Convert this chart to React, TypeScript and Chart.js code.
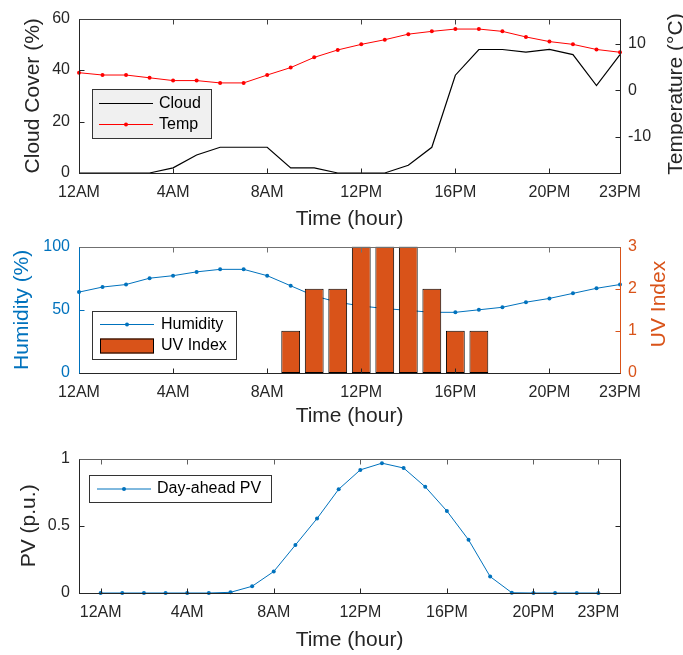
import React, { useEffect, useRef } from 'react';
import { Chart, registerables } from 'chart.js';

Chart.register(...registerables);

// ---------------- data ----------------
const HOURS = [0, 1, 2, 3, 4, 5, 6, 7, 8, 9, 10, 11, 12, 13, 14, 15, 16, 17, 18, 19, 20, 21, 22, 23];
const X_TICK_VALUES = [0, 4, 8, 12, 16, 20, 23];
const X_TICK_LABELS = ['12AM', '4AM', '8AM', '12PM', '16PM', '20PM', '23PM'];

const CLOUD = [0, 0, 0, 0, 2, 7, 10, 10, 10, 2, 2, 0, 0, 0, 3, 10, 38, 48, 48, 47, 48, 46, 34, 46];
const TEMP = [3.8, 3.3, 3.3, 2.7, 2.1, 2.1, 1.6, 1.6, 3.3, 4.9, 7.1, 8.7, 9.9, 10.9, 12.1, 12.7, 13.2, 13.2, 12.7, 11.5, 10.5, 9.9, 8.8, 8.2];
const HUMIDITY = [64, 68, 70, 75, 77, 80, 82, 82, 77, 69, 61, 56, 53, 51, 49.5, 48, 48, 50, 52, 56, 59, 63, 67, 70];
const UV_INDEX = [0, 0, 0, 0, 0, 0, 0, 0, 0, 1, 2, 2, 3, 3, 3, 2, 1, 1, 0, 0, 0, 0, 0, 0];
const PV = [0, 0, 0, 0, 0, 0, 0.005, 0.05, 0.16, 0.357, 0.554, 0.772, 0.916, 0.966, 0.93, 0.79, 0.61, 0.396, 0.122, 0.002, 0, 0, 0, 0];

const CLOUD_TICKS = [0, 20, 40, 60];
const TEMP_TICKS = [-10, 0, 10];
const HUMIDITY_TICKS = [0, 50, 100];
const UV_TICKS = [0, 1, 2, 3];
const PV_TICKS = [0, 0.5, 1];
const PV_TICK_LABELS = ['0', '0.5', '1'];

// ---------------- styles ----------------
const FONT = '"Liberation Sans", Arial, Helvetica, sans-serif';
const DARK = '#262626';
const BLUE = '#0072BD';
const ORANGE = '#D95319';
const RED = '#FF0000';

Chart.defaults.font.family = FONT;
Chart.defaults.color = DARK;

const setTicks = (vals: number[]) => (s: any) => {
  s.ticks = vals.map((v) => ({ value: v }));
};

const xScale = (min: number, max: number, height: number, titlePadBottom: number) => ({
  type: 'linear',
  min,
  max,
  offset: false,
  grid: { display: false, drawTicks: false },
  border: { display: false },
  afterBuildTicks: setTicks(X_TICK_VALUES),
  afterFit: (s: any) => {
    s.height = height;
  },
  ticks: {
    padding: 10,
    font: { size: 16 },
    color: DARK,
    maxRotation: 0,
    autoSkip: false,
    callback: (v: any) => {
      const i = X_TICK_VALUES.indexOf(Number(v));
      return i >= 0 ? X_TICK_LABELS[i] : '';
    },
  },
  title: {
    display: true,
    text: 'Time (hour)',
    font: { size: 21 },
    color: DARK,
    padding: { top: 0, bottom: titlePadBottom },
  },
});

const yScale = (
  position: 'left' | 'right',
  min: number,
  max: number,
  ticks: number[],
  width: number,
  color: string,
  title: string | null,
  titlePad: number,
  labels?: string[]
) => ({
  type: 'linear',
  position,
  min,
  max,
  grid: { display: false, drawTicks: false },
  border: { display: false },
  afterBuildTicks: setTicks(ticks),
  afterFit: (s: any) => {
    s.width = width;
  },
  ticks: {
    padding: position === 'left' ? 9 : 8,
    font: { size: 16 },
    color,
    callback: (v: any) => {
      if (labels) {
        const i = ticks.indexOf(Number(v));
        return i >= 0 ? labels[i] : '';
      }
      return String(v);
    },
  },
  title: title
    ? { display: true, text: title, font: { size: 21 }, color, padding: { top: titlePad, bottom: 0 } }
    : { display: false },
});

// ---------------- plugins ----------------
const framePlugin = {
  id: 'frame',
  afterDatasetsDraw(chart: any, _a: any, o: any) {
    const { ctx, chartArea } = chart;
    const T = Math.round(chartArea.top) + 0.5;
    const B = Math.round(chartArea.bottom) + 0.5;
    const L = Math.round(chartArea.left) + 0.5;
    const R = Math.round(chartArea.right) + 0.5;
    const seg = (x1: number, y1: number, x2: number, y2: number, c: string) => {
      ctx.strokeStyle = c;
      ctx.beginPath();
      ctx.moveTo(x1, y1);
      ctx.lineTo(x2, y2);
      ctx.stroke();
    };
    ctx.save();
    ctx.lineWidth = 1;
    const xs = chart.scales.x;
    const tl = 5;
    for (const v of X_TICK_VALUES) {
      const px = Math.round(xs.getPixelForValue(v)) + 0.5;
      seg(px, B, px, B - tl, o.bottomColor);
      seg(px, T, px, T + tl, o.topColor);
    }
    const ls = chart.scales[o.left.scale];
    for (const v of o.left.ticks) {
      const py = Math.round(ls.getPixelForValue(v)) + 0.5;
      seg(L, py, L + tl, py, o.left.color);
      if (o.mirror) seg(R, py, R - tl, py, o.right.color);
    }
    if (!o.mirror) {
      const rs = chart.scales[o.right.scale];
      for (const v of o.right.ticks) {
        const py = Math.round(rs.getPixelForValue(v)) + 0.5;
        seg(R, py, R - tl, py, o.right.color);
      }
    }
    seg(L - 0.5, T, R + 0.5, T, o.topColor);
    seg(L - 0.5, B, R + 0.5, B, o.bottomColor);
    seg(L, T, L, B, o.left.color);
    seg(R, T, R, B, o.right.color);
    ctx.restore();
  },
};

const legendPlugin = {
  id: 'mlegend',
  afterDraw(chart: any, _a: any, o: any) {
    const { ctx } = chart;
    ctx.save();
    const [x0, y0, x1, y1] = o.box;
    ctx.fillStyle = o.bg;
    ctx.fillRect(x0, y0, x1 - x0, y1 - y0);
    ctx.strokeStyle = '#333333';
    ctx.lineWidth = 1;
    ctx.strokeRect(x0 + 0.5, y0 + 0.5, x1 - x0 - 1, y1 - y0 - 1);
    ctx.font = `16px ${FONT}`;
    ctx.textBaseline = 'middle';
    ctx.textAlign = 'left';
    for (const it of o.items) {
      if (it.kind === 'bar') {
        ctx.fillStyle = it.color;
        ctx.fillRect(o.sx0, it.y - 7.5, o.sx1 - o.sx0, 15);
        ctx.strokeStyle = '#000';
        ctx.lineWidth = 1;
        ctx.strokeRect(o.sx0 + 0.5, it.y - 7, o.sx1 - o.sx0 - 1, 14);
      } else {
        ctx.strokeStyle = it.color;
        ctx.lineWidth = it.width || 1;
        ctx.beginPath();
        ctx.moveTo(o.sx0, it.y);
        ctx.lineTo(o.sx1, it.y);
        ctx.stroke();
        if (it.marker) {
          ctx.fillStyle = it.color;
          ctx.beginPath();
          ctx.arc((o.sx0 + o.sx1) / 2, it.y, 2, 0, Math.PI * 2);
          ctx.fill();
        }
      }
      ctx.fillStyle = '#000';
      ctx.fillText(it.label, o.tx, it.y);
    }
    if (o.rtitle) {
      ctx.save();
      ctx.translate(o.rtitle.x, o.rtitle.y);
      ctx.rotate(-Math.PI / 2);
      ctx.textAlign = 'center';
      ctx.textBaseline = 'middle';
      ctx.font = `21px ${FONT}`;
      ctx.fillStyle = o.rtitle.color;
      ctx.fillText(o.rtitle.text, 0, 0);
      ctx.restore();
    }
    ctx.restore();
  },
};

const pts = (vals: number[]) => HOURS.map((h, i) => ({ x: h, y: vals[i] }));

const baseOpts = {
  animation: false,
  responsive: false,
  maintainAspectRatio: false,
  events: [],
};

// ---------------- chart configs ----------------
const configTop = (): any => ({
  type: 'line',
  data: {
    datasets: [
      {
        label: 'Cloud',
        data: pts(CLOUD),
        borderColor: '#000000',
        borderWidth: 1.2,
        pointRadius: 0,
        yAxisID: 'y',
        clip: false,
        order: 1,
      },
      {
        label: 'Temp',
        data: pts(TEMP),
        borderColor: RED,
        backgroundColor: RED,
        borderWidth: 1,
        pointRadius: 2,
        pointBorderWidth: 0,
        yAxisID: 'y1',
        clip: false,
        order: 0,
      },
    ],
  },
  options: {
    ...baseOpts,
    layout: { padding: { top: 15, left: 0, right: 0, bottom: 0 } },
    plugins: {
      legend: { display: false },
      tooltip: { enabled: false },
      frame: {
        topColor: '#404040',
        bottomColor: DARK,
        left: { scale: 'y', ticks: CLOUD_TICKS, color: DARK },
        right: { scale: 'y1', ticks: TEMP_TICKS, color: DARK },
      },
      mlegend: {
        box: [92, 89, 212, 139],
        bg: '#F0F0F0',
        sx0: 99,
        sx1: 153,
        tx: 159,
        items: [
          { label: 'Cloud', color: '#000000', y: 103.5, width: 1.2 },
          { label: 'Temp', color: RED, y: 124.5, marker: true },
        ],
        rtitle: { text: 'Temperature (°C)', x: 676, y: 94, color: DARK },
      },
    },
    scales: {
      x: xScale(0, 23, 59, 0),
      y: yScale('left', 0, 60, CLOUD_TICKS, 79, DARK, 'Cloud Cover (%)', 21),
      y1: yScale('right', -17.8, 15.45, TEMP_TICKS, 63, DARK, null, 0),
    },
  },
  plugins: [framePlugin, legendPlugin],
});

const configMid = (): any => ({
  type: 'line',
  data: {
    datasets: [
      {
        type: 'line',
        label: 'Humidity',
        data: pts(HUMIDITY),
        borderColor: BLUE,
        backgroundColor: BLUE,
        borderWidth: 1,
        pointRadius: 2,
        pointBorderWidth: 0,
        yAxisID: 'y',
        clip: false,
        order: 1,
      },
      {
        type: 'bar',
        label: 'UV Index',
        data: HOURS.map((h, i) => ({ x: h, y: UV_INDEX[i] === 0 ? null : UV_INDEX[i] })),
        backgroundColor: ORANGE,
        borderColor: '#000000',
        borderWidth: 1,
        borderSkipped: false,
        barPercentage: 0.8,
        categoryPercentage: 1,
        yAxisID: 'y1',
        order: 0,
      },
    ],
  },
  options: {
    ...baseOpts,
    layout: { padding: { top: 7, left: 0, right: 0, bottom: 0 } },
    plugins: {
      legend: { display: false },
      tooltip: { enabled: false },
      frame: {
        topColor: '#707070',
        bottomColor: DARK,
        left: { scale: 'y', ticks: HUMIDITY_TICKS, color: BLUE },
        right: { scale: 'y1', ticks: UV_TICKS, color: ORANGE },
      },
      mlegend: {
        box: [92, 83, 237, 132],
        bg: '#FFFFFF',
        sx0: 100,
        sx1: 154,
        tx: 161,
        items: [
          { label: 'Humidity', color: BLUE, y: 96.5, marker: true },
          { label: 'UV Index', color: ORANGE, y: 118, kind: 'bar' },
        ],
        rtitle: { text: 'UV Index', x: 659.5, y: 76, color: ORANGE },
      },
    },
    scales: {
      x: xScale(0, 23, 59, 3),
      y: yScale('left', 0, 100, HUMIDITY_TICKS, 79, BLUE, 'Humidity (%)', 10),
      y1: yScale('right', 0, 3, UV_TICKS, 63, ORANGE, null, 0),
    },
  },
  plugins: [framePlugin, legendPlugin],
});

const configBot = (): any => ({
  type: 'line',
  data: {
    datasets: [
      {
        label: 'Day-ahead PV',
        data: pts(PV),
        borderColor: BLUE,
        backgroundColor: BLUE,
        borderWidth: 1,
        pointRadius: 2,
        pointBorderWidth: 0,
        yAxisID: 'y',
        clip: false,
      },
    ],
  },
  options: {
    ...baseOpts,
    layout: { padding: { top: 14, left: 0, right: 63, bottom: 0 } },
    plugins: {
      legend: { display: false },
      tooltip: { enabled: false },
      frame: {
        topColor: '#606060',
        bottomColor: DARK,
        mirror: true,
        left: { scale: 'y', ticks: PV_TICKS, color: DARK },
        right: { scale: 'y', ticks: PV_TICKS, color: DARK },
      },
      mlegend: {
        box: [89, 35, 272, 63],
        bg: '#FFFFFF',
        sx0: 97,
        sx1: 151,
        tx: 157,
        items: [{ label: 'Day-ahead PV', color: BLUE, y: 49, marker: true }],
      },
    },
    scales: {
      x: xScale(-1, 24, 62, 2),
      y: yScale('left', 0, 1, PV_TICKS, 79, DARK, 'PV (p.u.)', 17, PV_TICK_LABELS),
    },
  },
  plugins: [framePlugin, legendPlugin],
});

function ChartCanvas({ top, height, config }: { top: number; height: number; config: () => any }) {
  const ref = useRef<HTMLCanvasElement>(null);
  useEffect(() => {
    const chart = new Chart(ref.current as HTMLCanvasElement, config());
    return () => chart.destroy();
  }, []);
  return (
    <canvas
      ref={ref}
      width={683}
      height={height}
      style={{ position: 'absolute', left: 0, top, width: 683, height, display: 'block' }}
    />
  );
}

export default function App() {
  return (
    <div
      style={{
        position: 'absolute',
        left: 0,
        top: 0,
        width: 683,
        height: 655,
        overflow: 'hidden',
        background: '#ffffff',
      }}
    >
      <ChartCanvas top={0} height={232} config={configTop} />
      <ChartCanvas top={228} height={204} config={configMid} />
      <ChartCanvas top={440} height={215} config={configBot} />
    </div>
  );
}
